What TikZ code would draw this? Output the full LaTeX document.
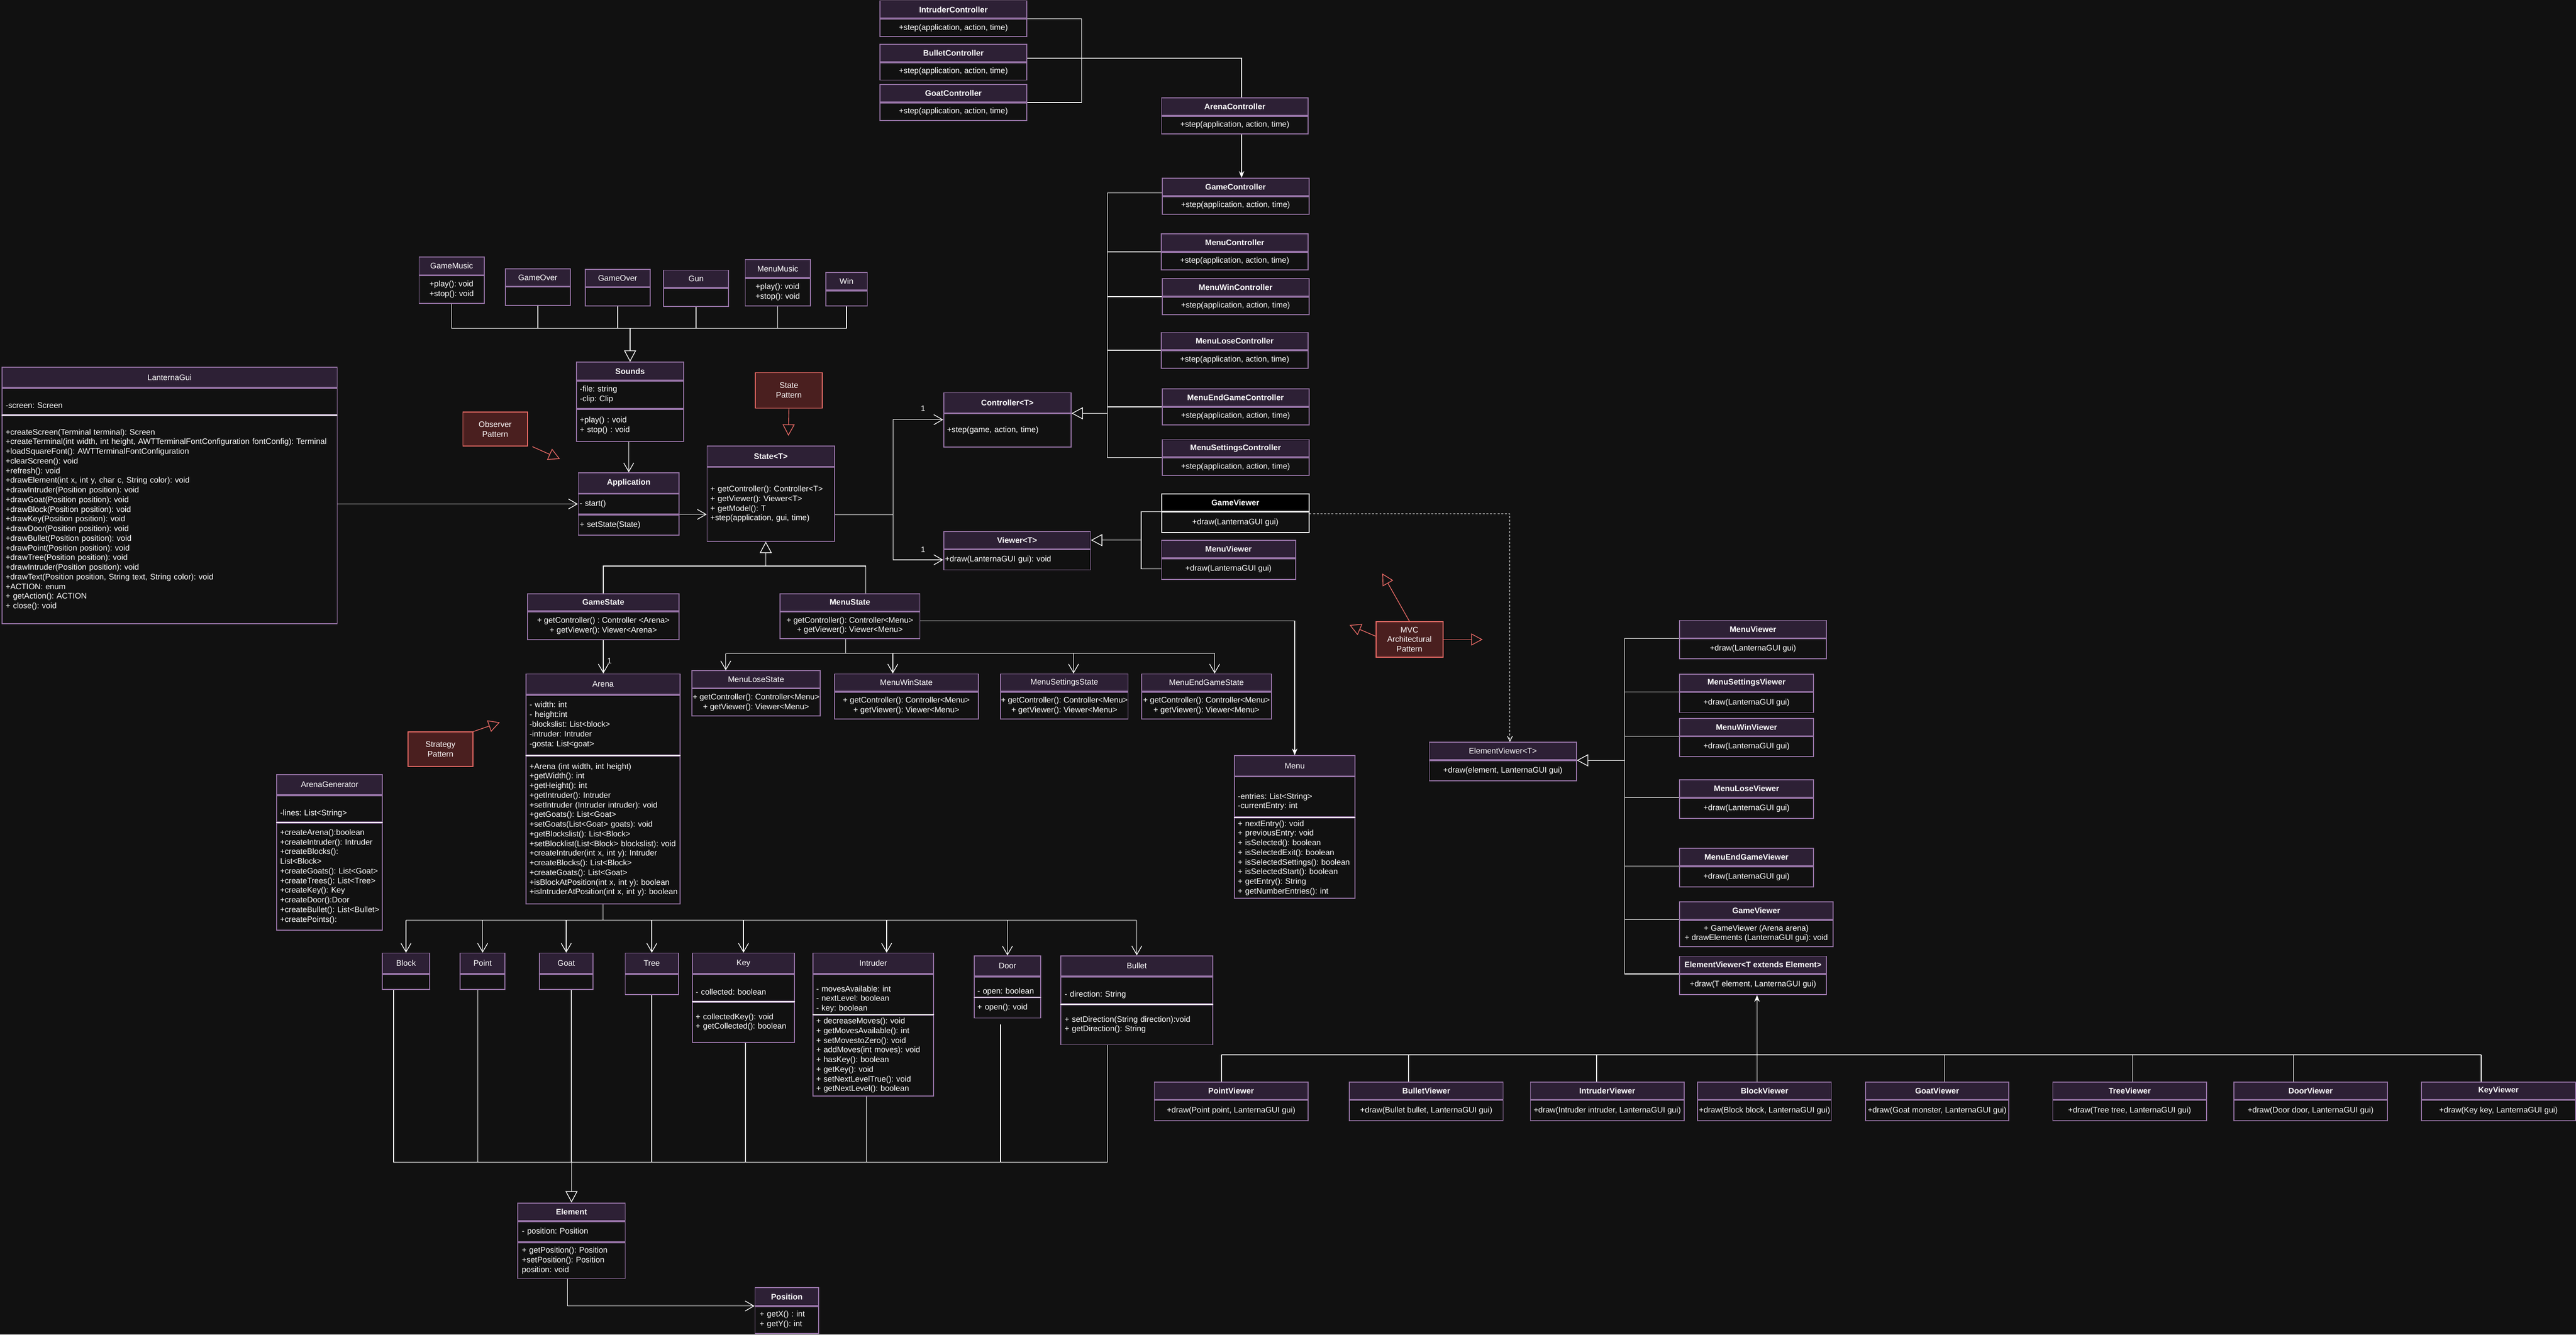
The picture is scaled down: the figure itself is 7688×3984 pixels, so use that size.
\documentclass[tikz,border=0pt]{standalone}
\usepackage{fontspec}
\setmainfont{Liberation Sans}
\usetikzlibrary{arrows.meta,calc}
\definecolor{bg}{HTML}{111111}
\definecolor{uhead}{HTML}{2D2035}
\definecolor{upur}{HTML}{9673A6}
\definecolor{nfill}{HTML}{4A1F1F}
\definecolor{nred}{HTML}{EA6B66}
\frenchspacing
\newcommand\uml{\fontsize{6.8}{8.2}\selectfont\frenchspacing}
\newcommand\cbody[1]{\noindent\begin{tabular}{@{}l@{}}#1\end{tabular}}
\tikzset{
 hd/.style 2 args={draw=upur, fill=uhead, line width=0.8pt, text=white, inner sep=0pt, anchor=north west, font=\uml, align=center, minimum width=#1*0.01cm, minimum height=#2*0.01cm},
 hdb/.style 2 args={hd={#1}{#2}, font=\uml\bfseries},
 bd/.style 2 args={draw=upur, fill=bg, line width=0.8pt, text=white, inner sep=0pt, anchor=north west, font=\uml, align=center, minimum width=#1*0.01cm, minimum height=#2*0.01cm},
 nt/.style 2 args={draw=nred, fill=nfill, line width=0.8pt, text=white, inner sep=0pt, anchor=north west, font=\uml, align=center, minimum width=#1*0.01cm, minimum height=#2*0.01cm},
 lt/.style={text width=#1cm, align=left},
 cl/.style={align=left},
 lbl/.style={text=white, font=\uml, inner sep=0pt},
 ln/.style={draw=white, line width=0.6pt},
 bus/.style={ln, line width=1pt},
 sepw/.style={draw=white, line width=0.8pt},
 dep/.style={ln, -{Straight Barb[length=0.26cm,width=0.3cm]}},
 inh/.style={ln, -{Triangle[open,length=0.34cm,width=0.36cm]}},
 stk/.style={ln, -{Stealth[length=0.2cm,width=0.16cm]}},
 pat/.style={draw=nred, line width=0.6pt, -{Triangle[open,length=0.34cm,width=0.36cm]}},
 dotl/.style={ln, dash pattern=on 0.06cm off 0.05cm, -{Straight Barb[length=0.15cm,width=0.15cm]}},
}
\begin{document}
\begin{tikzpicture}[x=0.01cm,y=-0.01cm]
\useasboundingbox (0,0) rectangle (7688,3984);
\fill[bg] (0,0) rectangle (7688,3984);

% ---------- Controllers ----------
\node[hdb={438}{52}] (ic) at (2625,1) {IntruderController};
\node[bd={438}{52}] (icb) at (ic.south west) {+step(application, action, time)};
\node[hdb={438}{52}] (bc) at (2625,131) {BulletController};
\node[bd={438}{52}] (bcb) at (bc.south west) {+step(application, action, time)};
\node[hdb={438}{52}] (gc) at (2625,251) {GoatController};
\node[bd={438}{52}] (gcb) at (gc.south west) {+step(application, action, time)};
\node[hdb={438}{52}] (ac) at (3465,291) {ArenaController};
\node[bd={438}{52}] (acb) at (ac.south west) {+step(application, action, time)};
\node[hdb={438}{52}] (gmc) at (3467,531) {GameController};
\node[bd={438}{52}] (gmcb) at (gmc.south west) {+step(application, action, time)};
\node[hdb={439}{52}] (mc) at (3464,697) {MenuController};
\node[bd={439}{52}] (mcb) at (mc.south west) {+step(application, action, time)};
\node[hdb={438}{52}] (mwc) at (3467,831) {MenuWinController};
\node[bd={438}{52}] (mwcb) at (mwc.south west) {+step(application, action, time)};
\node[hdb={439}{52}] (mlc) at (3464,991) {MenuLoseController};
\node[bd={439}{52}] (mlcb) at (mlc.south west) {+step(application, action, time)};
\node[hdb={438}{52}] (mec) at (3467,1160) {MenuEndGameController};
\node[bd={438}{52}] (mecb) at (mec.south west) {+step(application, action, time)};
\node[hdb={438}{52}] (msc) at (3467,1311) {MenuSettingsController};
\node[bd={438}{52}] (mscb) at (msc.south west) {+step(application, action, time)};

\node[hdb={380}{60}] (ctl) at (2815,1171) {Controller<T>};
\node[bd={380}{100}, lt=3.6] (ctlb) at (ctl.south west) {\cbody{+step(game, action, time)}};
\node[hdb={438}{52}] (vw) at (2815,1585) {Viewer<T>};
\node[bd={438}{60}, lt=4.30] (vwb) at (vw.south west) {\cbody{+draw(LanternaGUI gui): void}};
\node[hdb={439}{52}, fill=black, draw=white] (gva) at (3466,1473) {GameViewer};
\node[bd={439}{60}, draw=white] (gvab) at (gva.south west) {+draw(LanternaGUI gui)};
\node[hdb={400}{52}] (mva) at (3465,1612) {MenuViewer};
\node[bd={400}{61}] (mvab) at (mva.south west) {+draw(LanternaGUI gui)};

% ---------- Sounds ----------
\node[hd={194}{53}] (gm) at (1249.5,766) {GameMusic};
\node[bd={194}{82}, cl] (gmb) at (gm.south west) {+play(): void\\+stop(): void};
\node[hd={194}{52}] (go1) at (1506.6,801) {GameOver};
\node[bd={194}{54}] (go1b) at (go1.south west) {};
\node[hd={194}{52}] (go2) at (1745,802.6) {GameOver};
\node[bd={194}{54}] (go2b) at (go2.south west) {};
\node[hd={194}{52}] (gun) at (1979,805) {Gun};
\node[bd={194}{54}] (gunb) at (gun.south west) {};
\node[hd={194}{53}] (mm) at (2222.7,774) {MenuMusic};
\node[bd={194}{82}, cl] (mmb) at (mm.south west) {+play(): void\\+stop(): void};
\node[hd={124}{52.6}] (win) at (2463,812) {Win};
\node[bd={124}{44.4}] (winb) at (win.south west) {};

\node[hdb={320}{53}] (snd) at (1719,1080) {Sounds};
\node[bd={320}{82}, lt=3.0] (snda) at (snd.south west) {\cbody{-file: string\\-clip: Clip}};
\node[bd={320}{96}, lt=3.0] (sndm) at (snda.south west) {\cbody{+play() : void\\+ stop() : void}};

\node[hdb={301}{60.7}] (app) at (1724.5,1410) {Application};
\node[bd={301}{59.3}, lt=2.93] (appa) at (app.south west) {\cbody{- start()}};
\node[bd={301}{61}, lt=2.93] (appm) at (appa.south west) {\cbody{+ setState(State)}};

\node[hdb={380}{60.4}] (st) at (2109,1330.6) {State<T>};
\node[bd={380}{220.4}, lt=3.6] (stb) at (st.south west) {\cbody{+ getController(): Controller<T>\\+ getViewer(): Viewer<T>\\+ getModel(): T\\+step(application, gui, time)}};

% ---------- LanternaGui ----------
\node[hd={1000.4}{60}] (lg) at (4.6,1095) {LanternaGui};
\node[bd={1000.4}{79}, lt=9.78] (lga) at (lg.south west) {\cbody{~\\-screen: Screen}};
\node[bd={1000.4}{621}, lt=9.78] (lgm) at (lga.south west) {\cbody{+createScreen(Terminal terminal): Screen\\
+createTerminal(int width, int height, AWTTerminalFontConfiguration fontConfig): Terminal\\
+loadSquareFont(): AWTTerminalFontConfiguration\\
+clearScreen(): void\\
+refresh(): void\\
+drawElement(int x, int y, char c, String color): void\\
+drawIntruder(Position position): void\\
+drawGoat(Position position): void\\
+drawBlock(Position position): void\\
+drawKey(Position position): void\\
+drawDoor(Position position): void\\
+drawBullet(Position position): void\\
+drawPoint(Position position): void\\
+drawTree(Position position): void\\
+drawIntruder(Position position): void\\
+drawText(Position position, String text, String color): void\\
+ACTION: enum\\
+ getAction(): ACTION\\
+ close(): void}};

% ---------- Pattern notes ----------
\node[nt={193}{102}] (obs) at (1380,1228.5) {Observer\\Pattern};
\node[nt={200}{106}] (spn) at (2253,1111) {State\\Pattern};
\node[nt={193}{102}] (stra) at (1216.6,2184) {Strategy\\Pattern};
\node[nt={200}{106}] (mvc) at (4105,1854.7) {MVC\\Architectural\\Pattern};

% ---------- States ----------
\node[hdb={452.5}{51}] (gs) at (1573,1771) {GameState};
\node[bd={452.5}{83}] (gsb) at (gs.south west) {+ getController() : Controller <Arena>\\+ getViewer(): Viewer<Arena>};
\node[hdb={418}{52}] (ms) at (2326,1771) {MenuState};
\node[bd={418}{80}] (msb) at (ms.south west) {+ getController(): Controller<Menu>\\+ getViewer(): Viewer<Menu>};
\node[hd={382}{51}] (mls) at (2064,2001) {MenuLoseState};
\node[bd={382}{81}] (mlsb) at (mls.south west) {+ getController(): Controller<Menu>\\+ getViewer(): Viewer<Menu>};
\node[hd={429}{52}] (mws) at (2489,2010.5) {MenuWinState};
\node[bd={429}{80}] (mwsb) at (mws.south west) {+ getController(): Controller<Menu>\\+ getViewer(): Viewer<Menu>};
\node[hd={380}{52}] (mss) at (2985,2010.5) {MenuSettingsState};
\node[bd={380}{80}] (mssb) at (mss.south west) {+ getController(): Controller<Menu>\\+ getViewer(): Viewer<Menu>};
\node[hd={387}{52}] (mes) at (3405.7,2010.5) {MenuEndGameState};
\node[bd={387}{80}] (mesb) at (mes.south west) {+ getController(): Controller<Menu>\\+ getViewer(): Viewer<Menu>};

% ---------- Arena ----------
\node[hd={459}{60.5}] (ar) at (1569,2010.5) {Arena};
\node[bd={459}{178.6}, lt=4.39] (ara) at (ar.south west) {\cbody{- width: int\\- height:int\\-blockslist: List<block>\\-intruder: Intruder\\-gosta: List<goat>}};
\node[bd={459}{441.4}, lt=4.39] (arm) at (ara.south west) {\cbody{+Arena (int width, int height)\\+getWidth(): int\\+getHeight(): int\\+getIntruder(): Intruder\\+setIntruder (Intruder intruder): void\\+getGoats(): List<Goat>\\+setGoats(List<Goat> goats): void\\+getBlockslist(): List<Block>\\+setBlocklist(List<Block> blockslist): void\\+createIntruder(int x, int y): Intruder\\+createBlocks(): List<Block>\\+createGoats(): List<Goat>\\+isBlockAtPosition(int x, int y): boolean\\+isIntruderAtPosition(int x, int y): boolean}};

\node[hd={315.4}{60.4}] (ag) at (824.6,2310.6) {ArenaGenerator};
\node[bd={315.4}{79}, lt=2.95] (aga) at (ag.south west) {\cbody{~\\-lines: List<String>}};
\node[bd={315.4}{320}, lt=2.95] (agm) at (aga.south west) {\cbody{+createArena():boolean\\+createIntruder(): Intruder\\+createBlocks():\\List<Block>\\+createGoats(): List<Goat>\\+createTrees(): List<Tree>\\+createKey(): Key\\+createDoor():Door\\+createBullet(): List<Bullet>\\+createPoints():}};

\node[hd={359}{60.3}] (mn) at (3683,2254.7) {Menu};
\node[bd={359}{119.6}, lt=3.39] (mna) at (mn.south west) {\cbody{~\\-entries: List<String>\\-currentEntry: int}};
\node[bd={359}{240}, lt=3.39] (mnm) at (mna.south west) {\cbody{+ nextEntry(): void\\+ previousEntry: void\\+ isSelected(): boolean\\+ isSelectedExit(): boolean\\+ isSelectedSettings(): boolean\\+ isSelectedStart(): boolean\\+ getEntry(): String\\+ getNumberEntries(): int}};

% ---------- Elements ----------
\node[hd={141}{60.7}] (blk) at (1139.8,2844) {Block};
\node[bd={141}{45.3}] (blkb) at (blk.south west) {};
\node[hd={134}{60.7}] (pnt) at (1372,2844) {Point};
\node[bd={134}{45.3}] (pntb) at (pnt.south west) {};
\node[hd={159}{60.7}] (gt) at (1609,2844) {Goat};
\node[bd={159}{45.3}] (gtb) at (gt.south west) {};
\node[hd={159}{60.7}] (tr) at (1864.4,2844) {Tree};
\node[bd={159}{60.3}] (trb) at (tr.south west) {};
\node[hd={305}{60.7}] (ky) at (2065,2844) {Key};
\node[bd={305}{80.3}, lt=2.85] (kya) at (ky.south west) {\cbody{~\\- collected: boolean}};
\node[bd={305}{119.5}, lt=2.85] (kym) at (kya.south west) {\cbody{+ collectedKey(): void\\+ getCollected(): boolean}};
\node[hd={359.8}{60.7}] (intr) at (2424.8,2844) {Intruder};
\node[bd={359.8}{119.3}, lt=3.40] (intra) at (intr.south west) {\cbody{~\\- movesAvailable: int\\- nextLevel: boolean\\- key: boolean}};
\node[bd={359.8}{240.5}, lt=3.40] (intrm) at (intra.south west) {\cbody{+ decreaseMoves(): void\\+ getMovesAvailable(): int\\+ setMovestoZero(): void\\+ addMoves(int moves): void\\+ hasKey(): boolean\\+ getKey(): void\\+ setNextLevelTrue(): void\\+ getNextLevel(): boolean}};
\node[hd={199.4}{59.6}] (dr) at (2905.6,2852.4) {Door};
\node[bd={199.4}{60}, lt=1.79] (dra) at (dr.south west) {\cbody{~\\- open: boolean}};
\node[bd={199.4}{60}, lt=1.79] (drm) at (dra.south west) {\cbody{+ open(): void}};
\node[hd={453.5}{60}] (bu) at (3164.5,2852) {Bullet};
\node[bd={453.5}{80.5}, lt=4.31] (bua) at (bu.south west) {\cbody{~\\- direction: String}};
\node[bd={453.5}{119.5}, lt=4.31] (bum) at (bua.south west) {\cbody{+ setDirection(String direction):void\\+ getDirection(): String}};

\node[hdb={320.4}{52.5}] (el) at (1544,3590) {Element};
\node[bd={320.4}{60.5}, lt=2.96] (ela) at (el.south west) {\cbody{- position: Position}};
\node[bd={320.4}{107}, lt=2.96] (elm) at (ela.south west) {\cbody{+ getPosition(): Position\\+setPosition(): Position\\position: void}};
\node[hdb={189.5}{53}] (pos) at (2252,3843) {Position};
\node[bd={189.5}{80}, lt=1.62] (posb) at (pos.south west) {\cbody{+ getX() : int\\+ getY(): int}};

% ---------- Element viewers ----------
\node[hd={438.3}{52.3}] (evt) at (4264.7,2214.7) {ElementViewer<T>};
\node[bd={438.3}{59.5}] (evtb) at (evt.south west) {+draw(element, LanternaGUI gui)};
\node[hdb={438.4}{52.4}] (mvb) at (5011,1850.6) {MenuViewer};
\node[bd={438.4}{59.6}] (mvbb) at (mvb.south west) {+draw(LanternaGUI gui)};
\node[hdb={400}{52}] (msv) at (5011,2011) {MenuSettingsViewer};
\node[bd={400}{60}] (msvb) at (msv.south west) {+draw(LanternaGUI gui)};
\node[hdb={400}{52}] (mwv) at (5011,2143) {MenuWinViewer};
\node[bd={400}{60}] (mwvb) at (mwv.south west) {+draw(LanternaGUI gui)};
\node[hdb={400}{52}] (mlv) at (5011,2326.5) {MenuLoseViewer};
\node[bd={400}{60}] (mlvb) at (mlv.south west) {+draw(LanternaGUI gui)};
\node[hdb={400}{52}] (mev) at (5011,2531) {MenuEndGameViewer};
\node[bd={400}{60}] (mevb) at (mev.south west) {+draw(LanternaGUI gui)};
\node[hdb={458}{52}] (gvb) at (5011,2690.8) {GameViewer};
\node[bd={458}{79.6}] (gvbb) at (gvb.south west) {+ GameViewer (Arena arena)\\+ drawElements (LanternaGUI gui): void};
\node[hdb={438.4}{52}] (evte) at (5011,2853) {ElementViewer<T extends Element>};
\node[bd={438.4}{60}] (evteb) at (evte.south west) {+draw(T element, LanternaGUI gui)};

\node[hdb={458.5}{52}] (pv) at (3443.5,3228.7) {PointViewer};
\node[bd={458.5}{60.6}] (pvb) at (pv.south west) {+draw(Point point, LanternaGUI gui)};
\node[hdb={458.8}{52}] (bv) at (4025.8,3228.7) {BulletViewer};
\node[bd={458.8}{60.6}] (bvb) at (bv.south west) {+draw(Bullet bullet, LanternaGUI gui)};
\node[hdb={458.8}{52}] (iv) at (4566,3228.7) {IntruderViewer};
\node[bd={458.8}{60.6}] (ivb) at (iv.south west) {+draw(Intruder intruder, LanternaGUI gui)};
\node[hdb={398.5}{52}] (blv) at (5065.5,3228.7) {BlockViewer};
\node[bd={398.5}{60.6}] (blvb) at (blv.south west) {+draw(Block block, LanternaGUI gui)};
\node[hdb={428.4}{52}] (gv) at (5565.6,3228.7) {GoatViewer};
\node[bd={428.4}{60.6}] (gvb2) at (gv.south west) {+draw(Goat monster, LanternaGUI gui)};
\node[hdb={459}{52}] (tv) at (6125,3228.7) {TreeViewer};
\node[bd={459}{60.6}] (tvb) at (tv.south west) {+draw(Tree tree, LanternaGUI gui)};
\node[hdb={459}{52}] (dv) at (6665,3228.7) {DoorViewer};
\node[bd={459}{60.6}] (dvb) at (dv.south west) {+draw(Door door, LanternaGUI gui)};
\node[hdb={460.3}{52}] (kv) at (7225,3228.7) {KeyViewer};
\node[bd={460.3}{60.6}] (kvb) at (kv.south west) {+draw(Key key, LanternaGUI gui)};

% white separators
\foreach \n in {lga,ara,aga,kya,intra,dra,bua,mna} \draw[sepw] (\n.south west) -- (\n.south east);

% ---------- Connectors ----------
% controllers
\draw[ln] (ic.south east) -- ++(162,0) |- (gc.south east);
\draw[ln] ($(bc.south east)+(0,-12)$) -| ($(ac.north)+(20,0)$);
\draw[stk] ($(acb.south)+(20,0)$) -- ($(acb.south |- gmc.north)+(20,0)$);
\coordinate (ctr) at (3305,0);
\draw[ln] ($(gmc.south west)+(0,-10)$) -| (ctr |- msc.south west) -- (msc.south west);
\foreach \n in {mc,mwc,mlc,mec} \draw[ln] (\n.south west) -- (\n.south west -| ctr);
\draw[inh] (ctl.south east -| ctr) -- (ctl.south east);

% state -> controller / viewer
\coordinate (sx) at (2665,0);
\coordinate (stout) at ($(stb.east)+(0,31)$);
\coordinate (ctlin) at ($(ctl.south west)+(0,19)$);
\draw[dep] (stout) -| (ctlin -| sx) -- (ctlin);
\draw[dep] (stout) -| (vwb.west -| sx) -- (vwb.west);
\node[lbl] (one1) at (2755,1220) {1};
\node[lbl] (one2) at (2755,1641) {1};

% viewer inheritance
\coordinate (vt) at (3405.6,0);
\draw[ln] (gva.south west) -| (vt |- mvab.west) -- (mvab.west);
\draw[inh] (vw.east -| vt) -- (vw.east);

% LanternaGui -> Application -> State
\draw[dep] (lgm.east |- appa.west) -- (appa.west);
\draw[dep] (appa.south east) -- (appa.south east -| stb.west);
\draw[dep] (app.north |- sndm.south) -- (app.north);

% music -> sounds
\coordinate (mb) at (0,980.5);
\foreach \n in {gmb,go1b,go2b,gunb,mmb,winb} \draw[ln] (\n.south) -- (\n.south |- mb);
\draw[ln] (gmb.south |- mb) -- (winb.south |- mb);
\draw[inh] (snd.north |- mb) -- (snd.north);

% pattern arrows
\coordinate (obsT) at (1671,1370);
\draw[pat] ($(obs.south east)+(13,0)$) -- (obsT);
\coordinate (spT) at (2353,1301);
\draw[pat] (spn.south) -- (spT);
\coordinate (strT) at (1491.6,2156.5);
\draw[pat] (stra.north east) -- (strT);
\coordinate (mvT1) at (4125.5,1712);
\coordinate (mvT2) at (4027.6,1866);
\coordinate (mvT3) at ($(mvc.east)+(117,0)$);
\draw[pat] (mvc.north) -- (mvT1);
\draw[pat] ($(mvc.west)+(0,-10)$) -- (mvT2);
\draw[pat] (mvc.east) -- (mvT3);

% state inheritance
\coordinate (sb) at (0,1690);
\coordinate (msx) at (2584,0);
\draw[ln] (gs.north) -- (gs.north |- sb) -- (msx |- sb) -- (msx |- ms.north);
\draw[inh] ($(stb.south |- sb)+(-15,0)$) -- ($(stb.south)+(-15,0)$);

% GameState -> Arena
\draw[dep] (gsb.south) -- node[lbl, pos=0.62, right=3pt] (one3) {1} (gsb.south |- ar.north);

% MenuState -> menu states
\coordinate (ms1) at (2166,1950.5);
\coordinate (ms2) at (2664.5,1950.5);
\coordinate (ms3) at (3204,1950.5);
\coordinate (ms4) at (3625,1950.5);
\draw[ln] ($(msb.south)+(-12,0)$) -- ($(msb.south |- ms1)+(-12,0)$);
\draw[ln] (ms1) -- (ms4);
\draw[dep] (ms1) -- (ms1 |- mls.north);
\draw[dep] (ms2) -- (ms2 |- mws.north);
\draw[dep] (ms3) -- (ms3 |- mss.north);
\draw[dep] (ms4) -- (ms4 |- mes.north);
\draw[stk] ($(msb.east)+(0,-14)$) -| (mn.north);

% Arena -> elements
\coordinate (eb) at (0,2747);
\draw[ln] (arm.south) -- (arm.south |- eb);
\draw[ln] (blk.north |- eb) -- (bu.north |- eb);
\foreach \n in {blk,pnt,gt,tr,ky,dr,bu} \draw[dep] (\n.north |- eb) -- (\n.north);
\draw[dep] ($(intr.north |- eb)+(40,0)$) -- ($(intr.north)+(40,0)$);

% elements -> Element
\coordinate (elb) at (0,3470);
\foreach \n/\dx in {blkb/-37,pntb/-14,gtb/15,trb/0,kym/6,intrm/-21,bum/-88}
  \draw[ln] ($(\n.south)+(\dx,0)$) -- ($(\n.south |- elb)+(\dx,0)$);
\draw[ln] ($(drm.south)+(-21,18)$) -- ($(drm.south |- elb)+(-21,0)$);
\draw[ln] ($(blkb.south |- elb)+(-37,0)$) -- ($(bum.south |- elb)+(-88,0)$);
\draw[inh] (el.north |- elb) -- (el.north);

% Element -> Position
\draw[dep] ($(elm.south)+(-12,0)$) |- (pos.south west);

% GameViewer dotted -> ElementViewer<T>
\draw[dotl] ($(gva.south east)+(0,6)$) -| ($(evt.north)+(21,0)$);

% right viewers -> ElementViewer<T>
\coordinate (rt) at (4849,0);
\draw[ln] (mvb.south west) -| (rt |- evte.south west) -- (evte.south west);
\foreach \n in {msv,mwv,mlv,mev,gvb} \draw[ln] (\n.south west) -- (\n.south west -| rt);
\draw[inh] (evt.south east -| rt) -- (evt.south east);

% bottom viewers -> ElementViewer<T extends Element>
\coordinate (vb1) at (3645.5,3148.7);
\coordinate (vb8) at (7404.8,3148.7);
\draw[bus] (vb1) -- (vb8);
\foreach \n/\xx in {pv/3645.5,bv/4204,iv/4765.2,blv/5243.7,gv/5804,tv/6365,dv/6845,kv/7404.8}
  \draw[ln] (\xx,3148.7) -- (\xx,0 |- \n.north);
\coordinate (vbk) at (5243.7,3148.7);
\draw[stk] (vbk) -- (vbk |- evteb.south);
\end{tikzpicture}
\end{document}
